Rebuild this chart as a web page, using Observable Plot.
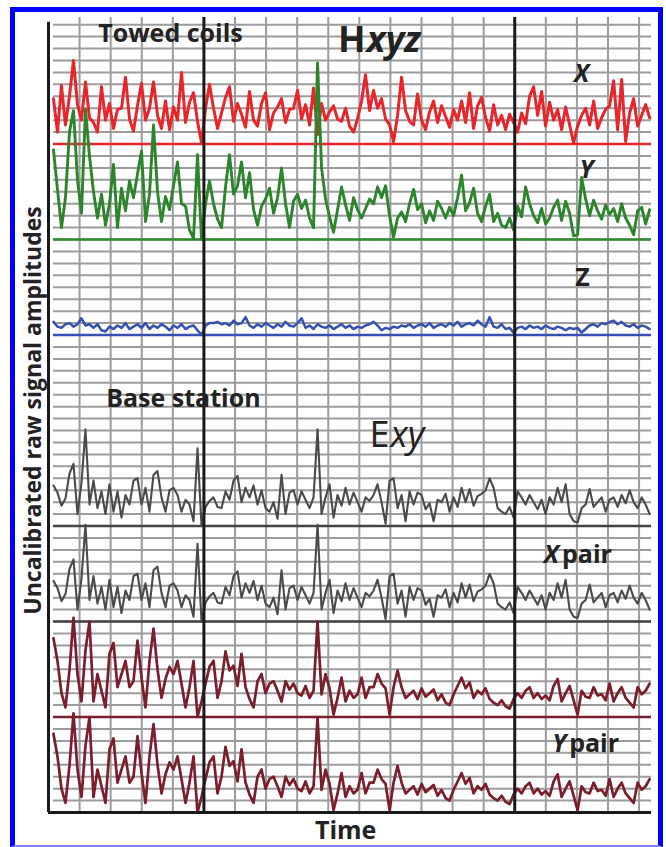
<!DOCTYPE html>
<html><head><meta charset="utf-8">
<script src="https://cdn.jsdelivr.net/npm/d3@7"></script>
<script src="https://cdn.jsdelivr.net/npm/@observablehq/plot@0.6"></script>
<style>
html,body{margin:0;padding:0;background:#fff;}
#wrap{position:relative;width:666px;height:847px;overflow:hidden;background:#fff;}
#border{position:absolute;left:10px;top:7px;width:653px;height:840px;box-sizing:border-box;border:5px solid #0000ff;border-bottom:2px solid #7f7fff;pointer-events:none;}
</style></head><body>
<div id="wrap"><div id="chart"></div><div id="border"></div></div>
<script>
// Towed coils, H field components (height above each trace baseline, in grid rows)
const hX = [
3.8,1.0,4.9,1.6,4.0,7.0,3.3,2.0,5.2,2.2, 1.8,1.0,4.8,2.0,3.4,1.3,2.9,3.0,5.6,2.1,
1.1,3.2,5.1,2.0,3.0,5.2,2.4,1.3,3.6,1.2, 3.1,2.0,6.0,1.8,3.5,4.3,1.9,0.1,3.0,5.0,
3.0,1.3,2.6,3.9,4.8,1.9,3.4,2.5,1.4,4.4, 2.0,1.5,3.4,4.3,1.2,2.6,3.1,3.8,1.8,2.9,
3.0,4.5,2.1,3.3,1.6,4.7,0.8,3.4,2.0,2.7, 3.2,2.1,1.9,3.0,1.5,1.0,2.1,3.6,5.8,2.8,
4.5,3.0,3.8,2.1,1.6,0.2,2.4,5.6,2.8,1.9, 1.6,4.2,2.0,1.2,2.7,3.6,1.8,3.2,2.3,1.4,
2.9,2.0,3.6,1.8,4.3,1.3,3.2,3.9,2.2,1.1, 3.3,1.6,2.4,1.2,2.5,1.8,1.0,2.6,1.7,4.0,
4.8,2.4,4.4,1.5,3.5,2.0,2.9,1.2,3.1,1.6, 0.1,1.5,2.4,3.0,1.6,3.6,1.3,2.2,2.9,3.2,
5.3,1.2,5.4,0.2,2.6,3.8,1.5,2.4,3.3,2.2];
const hY = [
7.5,4.2,1.0,3.5,9.0,10.8,5.0,2.2,10.9,7.0, 4.0,1.8,3.8,1.2,3.0,6.3,1.0,4.3,2.4,4.9,
3.5,5.5,7.4,1.5,3.8,9.6,4.0,1.5,3.6,2.5, 4.5,6.5,3.0,2.8,0.8,0.1,7.1,0.0,3.0,4.9,
3.0,1.7,1.0,4.4,7.1,3.8,4.5,6.5,3.5,5.6, 2.5,1.2,2.8,3.4,4.3,2.2,3.5,6.0,3.0,1.0,
3.2,3.8,2.6,3.3,1.8,1.0,14.8,6.0,3.4,1.9, 0.6,2.5,4.4,2.9,1.6,3.5,2.5,1.8,2.6,3.4,
3.0,4.4,3.5,4.5,2.0,0.2,1.8,2.3,1.5,3.0, 4.2,2.5,3.0,1.4,2.4,1.6,3.2,2.6,1.8,2.7,
2.0,3.5,5.4,2.4,3.1,4.3,2.2,1.5,2.8,3.8, 1.5,2.2,1.2,1.0,1.8,0.8,2.8,1.9,4.4,3.0,
2.0,1.4,2.6,1.3,1.8,2.7,3.3,1.6,3.2,2.2, 0.3,0.4,5.2,3.4,2.0,3.3,2.4,1.7,2.9,2.1,
2.6,1.5,3.0,1.8,1.2,0.4,2.4,2.7,1.3,2.5];
const hZ = [
1.1,0.7,0.6,0.9,1.0,0.7,0.9,1.4,0.8,0.9, 0.6,0.9,0.4,0.3,0.7,0.5,0.8,0.6,1.0,0.5,
0.7,0.9,0.6,1.0,0.5,0.8,0.6,0.9,0.7,0.4, 0.8,0.6,0.9,0.5,0.7,0.8,0.4,0.0,0.8,1.0,
1.0,1.1,0.9,1.0,0.8,1.2,0.9,1.0,1.5,0.8, 0.6,0.9,0.7,1.0,0.8,0.6,0.9,0.7,1.1,0.8,
0.7,1.0,1.4,0.6,0.8,0.5,0.9,0.7,0.6,0.8, 0.5,0.7,0.9,0.6,0.8,0.5,0.7,0.6,0.8,0.9,
1.1,0.8,0.4,0.6,0.5,0.7,0.6,0.8,0.7,0.9, 0.6,0.8,0.9,0.7,1.0,0.6,0.8,0.9,0.7,1.0,
0.8,1.1,0.7,0.9,1.0,0.8,1.2,0.9,0.7,1.5, 0.7,0.6,0.9,0.5,0.6,0.2,0.6,0.7,0.5,0.8,
0.6,0.7,0.5,0.8,0.6,0.5,0.7,0.6,0.4,0.6, 0.5,0.6,0.2,0.5,0.8,0.9,0.7,1.0,0.9,1.1,
1.2,0.9,1.1,0.8,0.7,0.9,0.6,0.8,0.7,0.5];
// Base station, E field pairs
const eX = [
3.4,2.8,1.7,2.3,4.4,5.2,1.0,3.6,8.1,1.8, 3.8,1.5,2.9,1.0,3.5,1.2,2.9,0.7,2.6,1.8,
3.8,4.0,1.8,3.2,1.2,4.3,4.6,2.4,1.2,3.0, 3.2,2.6,1.2,2.2,1.8,0.4,6.5,0.0,1.6,2.1,
2.4,1.6,1.5,2.9,2.2,3.8,4.2,2.0,3.2,2.4, 3.4,1.8,3.0,1.5,1.2,2.0,0.6,4.3,1.0,2.8,
3.0,1.8,2.9,2.2,1.5,2.4,8.1,1.0,2.4,3.5, 0.7,2.6,1.7,3.2,1.8,2.8,2.0,1.2,2.4,2.1,
2.6,3.5,2.0,0.2,3.8,4.0,1.5,2.6,0.4,2.9, 1.8,2.8,2.6,1.4,1.9,0.4,2.2,2.0,2.7,1.2,
2.4,1.6,3.2,2.0,3.1,1.7,2.5,2.7,3.0,4.0, 3.2,1.5,1.2,1.0,1.6,0.7,2.9,2.4,1.8,2.6,
2.0,1.4,2.2,1.0,2.4,1.8,3.2,2.0,3.5,1.0, 0.4,0.3,1.5,1.8,3.1,1.6,2.0,2.4,1.2,2.2,
2.4,1.6,2.6,1.9,3.0,2.0,1.5,2.4,1.8,1.0];
const eY = [
6.6,4.7,2.0,0.8,3.9,8.3,3.6,1.3,5.6,8.0, 1.3,3.6,2.2,0.8,5.3,6.2,2.5,3.6,4.7,2.5,
3.0,6.4,3.3,0.8,4.7,7.4,4.0,1.6,3.2,4.2, 3.6,4.7,2.8,0.8,2.5,4.7,0.0,1.3,2.8,4.2,
4.7,1.6,3.0,5.5,3.9,4.3,2.6,5.3,2.5,1.5, 0.8,3.0,3.6,2.0,2.8,3.0,2.2,1.3,3.0,2.3,
2.8,2.0,1.8,2.6,1.6,2.2,8.0,1.9,3.6,2.4, 0.2,1.6,3.3,1.3,2.2,1.6,1.9,3.3,1.6,2.5,
2.5,3.6,2.8,2.4,0.2,2.5,3.9,2.5,1.6,1.9, 2.2,1.5,2.4,1.7,2.0,2.3,1.4,1.9,1.2,1.0,
1.9,2.6,3.3,2.4,2.9,1.6,2.2,1.9,2.4,1.5, 1.2,1.0,1.4,0.9,0.7,1.5,2.0,1.6,2.2,2.5,
1.6,2.0,1.5,1.8,1.4,2.6,3.2,1.3,2.0,2.6, 1.4,0.2,2.2,1.7,1.6,2.5,1.8,1.9,1.4,2.8,
1.3,2.0,2.5,1.6,1.2,0.8,2.5,1.9,2.2,2.8];

const baseRows = {X: 56, Y: 48, Z: 40, Ex1: 24, Ex2: 16, Ey1: 8, Ey2: 0};
const T0 = 0.16, T1 = 19.34, TEND = 19.4, TOP = 66.6;
const gridCols = d3.range(1, 20);
const gridRows = d3.range(1, 67);
const markers = [5, 15];

function trace(vals, base) {
  const n = vals.length;
  return vals.map((v, i) => ({t: T0 + i * (T1 - T0) / (n - 1), v: base + v}));
}

const txt = (s, x, y, o) => Plot.text([s], Object.assign({x, y, text: d => d, fill: "#222", fontWeight: "bold", fontSize: 25, textAnchor: "middle", lineAnchor: "middle"}, o));

const chart = Plot.plot({
  width: 666, height: 847,
  marginLeft: 48, marginRight: 15, marginTop: 17, marginBottom: 35,
  x: {domain: [0, TEND], axis: null},
  y: {domain: [0, TOP], axis: null},
  style: {fontFamily: "'Open Sans', sans-serif", background: "white", overflow: "visible"},
  marks: [
    Plot.ruleY(gridRows, {y: d => d, x1: T0, x2: TEND, stroke: "#9c9c9c", strokeWidth: 2}),
    Plot.ruleX(gridCols, {x: d => d, y1: 0, y2: TOP, stroke: "#9c9c9c", strokeWidth: 2}),
    Plot.ruleY([baseRows.X], {y: d => d, x1: T0, x2: TEND, stroke: "#e8252b", strokeWidth: 2.5}),
    Plot.ruleY([baseRows.Y], {y: d => d, x1: T0, x2: TEND, stroke: "#2f8a2f", strokeWidth: 2.5}),
    Plot.ruleY([baseRows.Z], {y: d => d, x1: T0, x2: TEND, stroke: "#3550b0", strokeWidth: 2.5}),
    Plot.ruleY([baseRows.Ex1, baseRows.Ex2], {y: d => d, x1: T0, x2: TEND, stroke: "#444", strokeWidth: 2.5}),
    Plot.ruleY([baseRows.Ey1], {y: d => d, x1: T0, x2: TEND, stroke: "#7a1e2b", strokeWidth: 2.5}),
    Plot.line(trace(hX, baseRows.X), {x: "t", y: "v", stroke: "#e8252b", strokeWidth: 3, strokeLinejoin: "round"}),
    Plot.line(trace(hY, baseRows.Y), {x: "t", y: "v", stroke: "#2c852c", strokeWidth: 2.9, strokeLinejoin: "round"}),
    Plot.line(trace(hZ, baseRows.Z), {x: "t", y: "v", stroke: "#3550b0", strokeWidth: 2.5, strokeLinejoin: "round"}),
    Plot.line(trace(eX, baseRows.Ex1), {x: "t", y: "v", stroke: "#4a4a4a", strokeWidth: 2.1, strokeLinejoin: "round"}),
    Plot.line(trace(eX, baseRows.Ex2), {x: "t", y: "v", stroke: "#4a4a4a", strokeWidth: 2.1, strokeLinejoin: "round"}),
    Plot.line(trace(eY, baseRows.Ey1), {x: "t", y: "v", stroke: "#7a1e2b", strokeWidth: 2.7, strokeLinejoin: "round"}),
    Plot.line(trace(eY, baseRows.Ey2), {x: "t", y: "v", stroke: "#7a1e2b", strokeWidth: 2.7, strokeLinejoin: "round"}),
    Plot.ruleX(markers, {x: d => d, y1: 0, y2: TOP, stroke: "#1a1a1a", strokeWidth: 3}),
    Plot.ruleX([0], {x: d => d, y1: 0, y2: 66.2, stroke: "#1a1a1a", strokeWidth: 3}),
    Plot.ruleY([0], {y: d => d, x1: 0, x2: TEND, stroke: "#1a1a1a", strokeWidth: 3}),
    txt("Towed coils", 3.925, 65.18, {}),
    txt("H", 10.2, 64.67, {fontSize: 36, textAnchor: "end"}),
    txt("xyz", 10.2, 64.67, {fontSize: 36, textAnchor: "start", fontStyle: "italic", dx: 1}),
    txt("X", 17.15, 61.87, {fontStyle: "italic"}),
    txt("Y", 17.31, 53.8, {fontStyle: "italic"}),
    txt("Z", 17.18, 44.8, {}),
    txt("Base station", 4.34, 34.6, {}),
    txt("E", 10.97, 31.58, {fontSize: 36, fontWeight: 500, textAnchor: "end"}),
    txt("xy", 10.97, 31.58, {fontSize: 36, fontWeight: 500, fontStyle: "italic", textAnchor: "start", dx: 1}),
    txt("X", 16.42, 21.6, {fontStyle: "italic", textAnchor: "end"}),
    txt("pair", 16.52, 21.6, {textAnchor: "start"}),
    txt("Y", 16.66, 5.7, {fontStyle: "italic", textAnchor: "end"}),
    txt("pair", 16.75, 5.7, {textAnchor: "start"}),
    txt("Time", 9.56, -1.59, {}),
    txt("Uncalibrated raw signal amplitudes", -0.48, 33.68, {rotate: -90, fontSize: 23})
  ]
});
document.getElementById("chart").appendChild(chart);
</script>
</body></html>
